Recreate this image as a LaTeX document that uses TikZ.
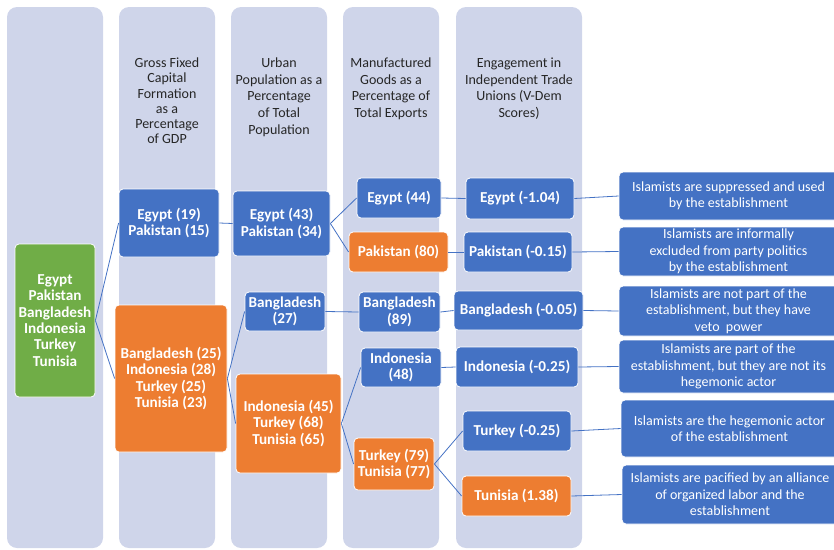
\documentclass[tikz,border=0pt]{standalone}
\usepackage{fontspec}
\setmainfont{Carlito}
\definecolor{colbg}{RGB}{207,213,234}
\definecolor{boxblue}{RGB}{68,114,196}
\definecolor{boxorange}{RGB}{237,125,49}
\definecolor{boxgreen}{RGB}{112,173,71}

\begin{document}
\begin{tikzpicture}[x=1pt, y=-1pt, column/.style={fill=colbg, rounded
      corners=10pt}, header/.style={anchor=north, align=center, inner sep=0pt,
      text=black!85, font=\fontsize{14}{16.7}\selectfont}, box/.style={draw=white,
      line width=0.8pt, rounded corners=4pt, align=center, inner sep=0pt,
      text=white, font=\bfseries\fontsize{15.2}{16.4}\selectfont},
      bluebox/.style={box, fill=boxblue}, orangebox/.style={box,
      fill=boxorange}, greenbox/.style={box, fill=boxgreen},
      outcome/.style={box, fill=boxblue, font=\fontsize{14}{16.4}\selectfont},
      link/.style={draw=boxblue, line width=0.8pt} ]

    \useasboundingbox (0,0) rectangle (834,549);
    \clip (0,0) rectangle (834,549);

    % Column backgrounds
    \fill[column] (7,7) rectangle (103,548); \fill[column] (119,7) rectangle
    (215,548); \fill[column] (231,7) rectangle (327,548); \fill[column]
    (343,7) rectangle (439,548); \fill[column] (456,7) rectangle (582,548);

    % Column headings
    \node[header, font=\fontsize{14}{15.3}\selectfont] (hgfc) at (167,57.5)
    {Gross Fixed\\Capital\\Formation\\as a\\Percentage\\of GDP};
    \node[header] (hurb) at (279,57.5) {Urban\\Population as a\\Percentage\\of
    Total\\Population}; \node[header] (hman) at (391,57.5)
    {Manufactured\\Goods as a\\Percentage of\\Total Exports}; \node[header]
    (hunion) at (519,57.5) {Engagement in\\Independent Trade\\Unions
    (V-Dem\\Scores)};

    % All cases
    \node[greenbox, minimum width=80, minimum height=153] (all) at (55,320.5)
    {Egypt\\Pakistan\\Bangladesh\\Indonesia\\Turkey\\Tunisia};

    % Gross fixed capital formation
    \node[bluebox, minimum width=100, minimum height=68] (gfcA) at (169,223)
    {Egypt (19)\\Pakistan (15)}; \node[orangebox, minimum width=112, minimum
    height=147] (gfcB) at (171,378.5) {Bangladesh (25)\\Indonesia (28)\\Turkey
    (25)\\Tunisia (23)};

    % Urban population
    \node[bluebox, minimum width=97, minimum height=65] (urbA) at (281.5,223.5)
    {Egypt (43)\\Pakistan (34)}; \node[bluebox, minimum width=80, minimum
    height=39] (urbB) at (285,311.5) {Bangladesh\\(27)}; \node[orangebox,
    minimum width=105, minimum height=99] (urbC) at (288.5,423.5) {Indonesia
    (45)\\Turkey (68)\\Tunisia (65)};

    % Manufactured exports
    \node[bluebox, minimum width=84, minimum height=40] (manA) at (399,198)
    {Egypt (44)}; \node[orangebox, minimum width=99, minimum height=40] (manB)
    at (398.5,252) {Pakistan (80)}; \node[bluebox, minimum width=81, minimum
    height=40] (manC) at (399.5,312) {Bangladesh\\(89)}; \node[bluebox,
    minimum width=80, minimum height=39] (manD) at (401,367.5)
    {Indonesia\\(48)}; \node[orangebox, minimum width=80, minimum height=52]
    (manE) at (394,464) {Turkey (79)\\Tunisia (77)};

    % Trade union engagement
    \node[bluebox, minimum width=108, minimum height=41] (tuA) at (520,198.5)
    {Egypt (-1.04)}; \node[bluebox, minimum width=108, minimum height=40]
    (tuB) at (518,252) {Pakistan (-0.15)}; \node[bluebox, minimum width=129,
    minimum height=39] (tuC) at (518.5,310.5) {Bangladesh (-0.05)};
    \node[bluebox, minimum width=122, minimum height=40] (tuD) at (517,367)
    {Indonesia (-0.25)}; \node[bluebox, minimum width=108, minimum height=40]
    (tuE) at (517,431) {Turkey (-0.25)}; \node[orangebox, minimum width=109,
    minimum height=40] (tuF) at (516.5,496) {Tunisia (1.38)};

    % Outcomes for the Islamists
    \node[outcome, minimum width=219, minimum height=48] (outA) at
    (728.5,196) {Islamists are suppressed and used\\by the establishment};
    \node[outcome, minimum width=219, minimum height=49] (outB) at
    (728.5,251.5) {Islamists are informally\\excluded from party politics\\by
    the establishment}; \node[outcome, minimum width=219, minimum height=50]
    (outC) at (728.5,311) {Islamists are not part of the\\establishment, but
    they have\\veto~ power}; \node[outcome, minimum width=219, minimum
    height=53] (outD) at (728.5,366.5) {Islamists are part of
    the\\establishment, but they are not its\\hegemonic actor};
    \node[outcome, minimum width=217, minimum height=57] (outE) at
    (729.5,428.5) {Islamists are the hegemonic actor\\of the establishment};
    \node[outcome, minimum width=216, minimum height=59] (outF) at
    (730,494.5) {Islamists are pacified by an alliance\\of organized labor and
    the\\establishment};

    % Links between columns
    \draw[link] (all.east) -- (gfcA.west); \draw[link] (all.east) --
    (gfcB.west); \draw[link] (gfcA.east) -- (urbA.west); \draw[link]
    (gfcB.east) -- (urbB.west); \draw[link] (gfcB.east) -- (urbC.west);
    \draw[link] (urbA.east) -- (manA.west); \draw[link] (urbA.east) --
    (manB.west); \draw[link] (urbB.east) -- (manC.west); \draw[link]
    (urbC.east) -- (manD.west); \draw[link] (urbC.east) -- (manE.west);
    \draw[link] (manA.east) -- (tuA.west); \draw[link] (manB.east) --
    (tuB.west); \draw[link] (manC.east) -- (tuC.west); \draw[link] (manD.east)
    -- (tuD.west); \draw[link] (manE.east) -- (tuE.west); \draw[link]
    (manE.east) -- (tuF.west);
    \draw[link] (tuA.east) -- (outA.west); \draw[link] (tuB.east) --
    (outB.west); \draw[link] (tuC.east) -- (outC.west); \draw[link] (tuD.east)
    -- (outD.west); \draw[link] (tuE.east) -- (outE.west); \draw[link]
    (tuF.east) -- (outF.west);

    \end{tikzpicture}
\end{document}
